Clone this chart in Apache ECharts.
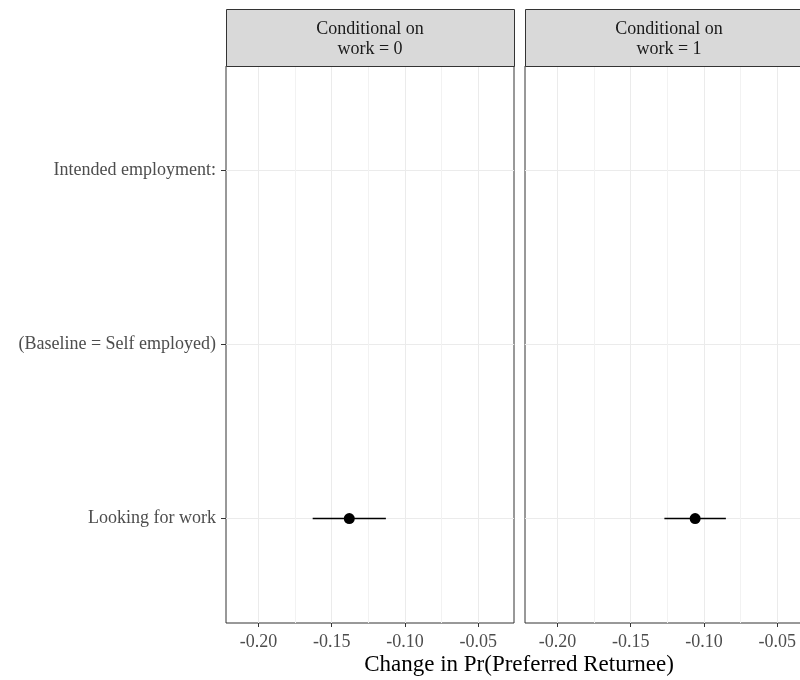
<!DOCTYPE html>
<html>
<head>
<meta charset="utf-8">
<script src="https://cdn.jsdelivr.net/npm/echarts@6/dist/echarts.min.js"></script>
<style>
html,body{margin:0;padding:0;background:#fff;}
#chart{width:800px;height:680px;}
</style>
</head>
<body>
<div id="chart"></div>
<script>
// ---- data ----
const categories = ['Intended employment:', '(Baseline = Self employed)', 'Looking for work'];
const panels = ['Conditional on\nwork = 0', 'Conditional on\nwork = 1'];
const rowOfEstimate = 'Looking for work';
const estimates = [-0.138, -0.106];
const lower = [-0.163, -0.127];
const upper = [-0.113, -0.085];
const xTicks = [-0.20, -0.15, -0.10, -0.05];
const xMinorTicks = [-0.175, -0.125, -0.075, -0.025];
const xTitle = 'Change in Pr(Preferred Returnee)';

// ---- layout ----
const FONT = "'Liberation Serif', 'Times New Roman', serif";
const XMIN = -0.2222, XMAX = -0.0255;
const panelLeft = [226, 525];
const panelW = 288;
const panelTop = 66, panelH = 557;
const stripTop = 9;

const chart = echarts.init(document.getElementById('chart'), null, {renderer: 'canvas'});
const rowIdx = categories.map((c, i) => i + 1);
const yRow = categories.indexOf(rowOfEstimate) + 1;

const grids = panelLeft.map(l => ({
  left: l, top: panelTop, width: panelW, height: panelH,
  outerBoundsMode: 'none',
  show: true, borderColor: '#333333', borderWidth: 1, backgroundColor: '#ffffff', containLabel: false
}));

const xAxes = [];
const yAxes = [];
panelLeft.forEach((l, gi) => {
  xAxes.push({
    type: 'value', gridIndex: gi, min: XMIN, max: XMAX, position: 'bottom',
    axisLine: {show: false},
    axisTick: {show: true, customValues: xTicks, length: 4, lineStyle: {color: '#333333', width: 1}},
    axisLabel: {show: true, customValues: xTicks, formatter: v => v.toFixed(2), fontFamily: FONT, fontSize: 18, color: '#4D4D4D', margin: 10},
    splitLine: {show: true, customValues: xTicks, lineStyle: {color: '#EBEBEB', width: 1}}
  });
  xAxes.push({
    type: 'value', gridIndex: gi, min: XMIN, max: XMAX, position: 'top',
    axisLine: {show: false},
    axisTick: {show: false, customValues: xMinorTicks},
    axisLabel: {show: false, customValues: xMinorTicks},
    splitLine: {show: true, customValues: xMinorTicks, lineStyle: {color: '#F2F2F2', width: 1}}
  });
  yAxes.push({
    type: 'value', gridIndex: gi, min: 0.4, max: 3.6, inverse: true,
    axisLine: {show: false},
    axisTick: {show: gi === 0, customValues: rowIdx, length: 5, lineStyle: {color: '#333333', width: 1}},
    axisLabel: {show: gi === 0, customValues: rowIdx, formatter: v => categories[Math.round(v) - 1] || '', fontFamily: FONT, fontSize: 18, color: '#4D4D4D', margin: 10},
    splitLine: {show: true, customValues: rowIdx, lineStyle: {color: '#EBEBEB', width: 1}}
  });
});

const series = [];
panelLeft.forEach((l, gi) => {
  series.push({
    type: 'line', xAxisIndex: gi * 2, yAxisIndex: gi, silent: true,
    data: [[lower[gi], yRow], [upper[gi], yRow]],
    symbol: 'none', lineStyle: {color: '#000000', width: 1.6}, z: 3
  });
  series.push({
    type: 'scatter', xAxisIndex: gi * 2, yAxisIndex: gi, silent: true,
    data: [[estimates[gi], yRow]],
    symbol: 'circle', symbolSize: 11, itemStyle: {color: '#000000', opacity: 1}, z: 4
  });
});

const graphics = [];
panelLeft.forEach((l, gi) => {
  graphics.push({
    type: 'rect', shape: {x: l + 0.5, y: stripTop + 0.5, width: panelW, height: panelTop - stripTop},
    style: {fill: '#D9D9D9', stroke: '#333333', lineWidth: 1}, z: 10
  });
  graphics.push({
    type: 'text', x: l + panelW / 2, y: 39.3, z: 11,
    style: {text: panels[gi], fontFamily: FONT, fontSize: 18, fill: '#1A1A1A', align: 'center', verticalAlign: 'middle', lineHeight: 19.5}
  });
});
graphics.push({
  type: 'text', x: 519, y: 665, z: 11,
  style: {text: xTitle, fontFamily: FONT, fontSize: 23, fill: '#000000', align: 'center', verticalAlign: 'middle'}
});

chart.setOption({
  animation: false,
  backgroundColor: '#ffffff',
  grid: grids,
  xAxis: xAxes,
  yAxis: yAxes,
  series: series,
  graphic: graphics
});
</script>
</body>
</html>
